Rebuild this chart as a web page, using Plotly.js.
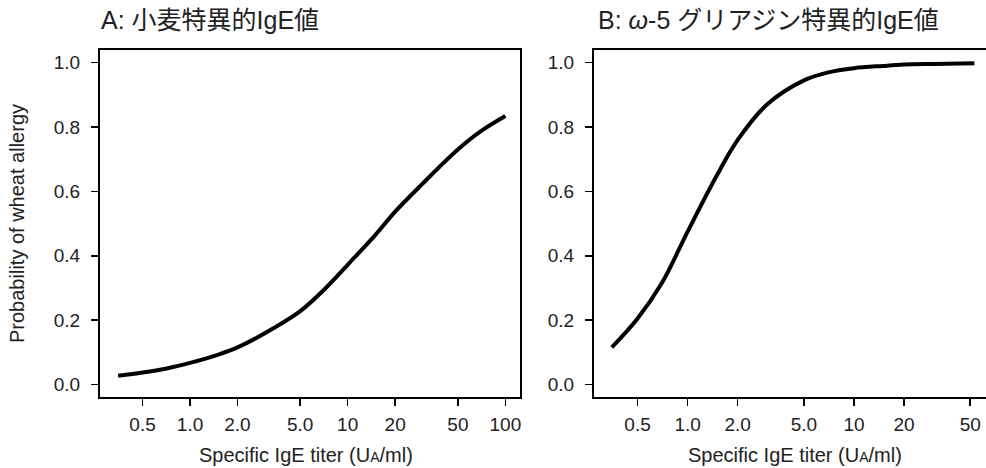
<!DOCTYPE html>
<html>
<head>
<meta charset="utf-8">
<script src="https://cdn.plot.ly/plotly-3.0.1.min.js"></script>
<style>html,body{margin:0;padding:0;background:#fff;overflow:hidden}</style>
</head>
<body>
<div id="chart" style="width:986px;height:468px"></div>
<script>
// Panel A: wheat-specific IgE
const titerA = [0.35, 0.5, 0.7, 1.0, 1.5, 2.0, 3.0, 5.0, 7.0, 10, 15, 20, 30, 50, 70, 100];
const probA  = [0.027, 0.037, 0.049, 0.067, 0.092, 0.115, 0.160, 0.228, 0.292, 0.372, 0.465, 0.537, 0.625, 0.730, 0.787, 0.834];
// Panel B: omega-5 gliadin-specific IgE
const titerB = [0.35, 0.5, 0.7, 1.0, 1.5, 2.0, 3.0, 5.0, 7.0, 10, 15, 20, 30, 53];
const probB  = [0.115, 0.205, 0.315, 0.475, 0.650, 0.760, 0.870, 0.945, 0.970, 0.983, 0.990, 0.994, 0.996, 0.998];

const tickValsA = [0.5, 1, 2, 5, 10, 20, 50, 100];
const tickTextA = ['0.5', '1.0', '2.0', '5.0', '10', '20', '50', '100'];
const tickValsB = [0.5, 1, 2, 5, 10, 20, 50];
const tickTextB = ['0.5', '1.0', '2.0', '5.0', '10', '20', '50'];
const yTicks = [0, 0.2, 0.4, 0.6, 0.8, 1.0];

const titleA = 'A: 小麦特異的IgE値';
const titleB = 'B: <i>ω</i>-5 グリアジン特異的IgE値';
const xTitle = 'Specific IgE titer (U<span style="font-size:14px">A</span>/ml)';
const yTitle = 'Probability of wheat allergy';

const FONT = '"Liberation Sans", Arial, "Noto Sans CJK JP", sans-serif';
const W = 986, H = 468;
const px = v => v / W, py = v => 1 - v / H;

const lineStyle = {color: '#000', width: 4};
const traces = [
  {x: titerA, y: probA, type: 'scatter', mode: 'lines', line: Object.assign({shape: 'spline'}, lineStyle), xaxis: 'x', yaxis: 'y', hoverinfo: 'skip'},
  {x: titerB, y: probB, type: 'scatter', mode: 'lines', line: Object.assign({shape: 'spline'}, lineStyle), xaxis: 'x2', yaxis: 'y2', hoverinfo: 'skip'}
];

const axCommon = {
  showgrid: false, zeroline: false, showline: true, linecolor: '#000', linewidth: 2,
  ticks: 'outside', ticklen: 7, tickwidth: 1.5, tickcolor: '#000',
  tickfont: {family: FONT, size: 19, color: '#222'}, fixedrange: true
};
const yDom = [py(397), py(49.5)];

const layout = {
  width: W, height: H,
  margin: {l: 0, r: 0, t: 0, b: 0},
  paper_bgcolor: '#fff', plot_bgcolor: '#fff',
  showlegend: false,
  font: {family: FONT, color: '#222'},
  xaxis: Object.assign({}, axCommon, {type: 'log', domain: [px(100), px(520)], range: [-0.571, 2.093], tickvals: tickValsA, ticktext: tickTextA, mirror: true, anchor: 'y', ticklabelstandoff: 2}),
  yaxis: Object.assign({}, axCommon, {domain: yDom, range: [-0.039, 1.041], tickvals: yTicks, tickformat: '.1f', mirror: true, anchor: 'x', ticklabelstandoff: 7}),
  xaxis2: Object.assign({}, axCommon, {type: 'log', domain: [px(594), 1], range: [-0.563, 1.794], tickvals: tickValsB, ticktext: tickTextB, mirror: true, anchor: 'y2', ticklabelstandoff: 2}),
  yaxis2: Object.assign({}, axCommon, {domain: yDom, range: [-0.039, 1.041], tickvals: yTicks, tickformat: '.1f', mirror: false, anchor: 'x2', ticklabelstandoff: 7}),
  annotations: [
    {text: titleA, xref: 'paper', yref: 'paper', x: px(99), y: py(20), xanchor: 'left', yanchor: 'middle', showarrow: false, font: {family: FONT, size: 25, color: '#222'}},
    {text: titleB, xref: 'paper', yref: 'paper', x: px(596), y: py(20), xanchor: 'left', yanchor: 'middle', showarrow: false, font: {family: FONT, size: 25, color: '#222'}},
    {text: xTitle, xref: 'paper', yref: 'paper', x: px(306), y: py(455), xanchor: 'center', yanchor: 'middle', showarrow: false, font: {family: FONT, size: 20, color: '#222'}},
    {text: xTitle, xref: 'paper', yref: 'paper', x: px(795), y: py(455), xanchor: 'center', yanchor: 'middle', showarrow: false, font: {family: FONT, size: 20, color: '#222'}},
    {text: yTitle, xref: 'paper', yref: 'paper', x: px(17), y: py(224), xanchor: 'center', yanchor: 'middle', textangle: -90, showarrow: false, font: {family: FONT, size: 20, color: '#222'}}
  ]
};

Plotly.newPlot('chart', traces, layout, {displayModeBar: false, staticPlot: true});
</script>
</body>
</html>
